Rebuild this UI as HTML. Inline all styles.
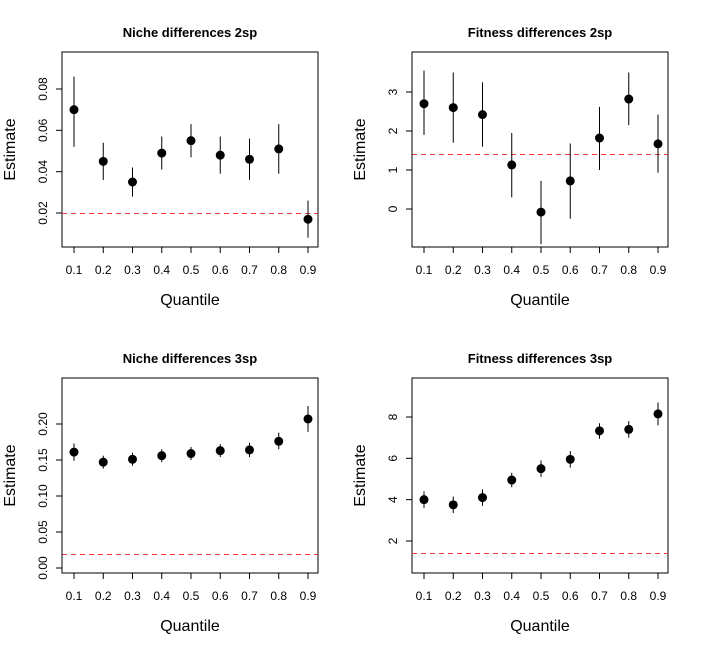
<!DOCTYPE html>
<html><head><meta charset="utf-8"><style>
body{margin:0;background:#fff}
svg text{font-family:"Liberation Sans",Arial,sans-serif;fill:#000}
</style></head><body>
<svg id="c" width="702" height="655" xmlns="http://www.w3.org/2000/svg"></svg>
<script>
const quantiles=[0.1,0.2,0.3,0.4,0.5,0.6,0.7,0.8,0.9];
const niche2Est=[0.070,0.045,0.035,0.049,0.055,0.048,0.046,0.051,0.017];
const niche2Lo=[0.052,0.036,0.028,0.041,0.047,0.039,0.036,0.039,0.008];
const niche2Hi=[0.086,0.054,0.042,0.057,0.063,0.057,0.056,0.063,0.026];
const fit2Est=[2.70,2.60,2.42,1.13,-0.08,0.72,1.82,2.82,1.67];
const fit2Lo=[1.90,1.70,1.60,0.30,-0.90,-0.25,1.00,2.15,0.93];
const fit2Hi=[3.55,3.50,3.25,1.95,0.72,1.68,2.62,3.50,2.42];
const niche3Est=[0.161,0.147,0.151,0.156,0.159,0.163,0.164,0.176,0.207];
const niche3Lo=[0.149,0.138,0.142,0.147,0.150,0.154,0.154,0.165,0.189];
const niche3Hi=[0.173,0.156,0.160,0.165,0.168,0.172,0.174,0.188,0.225];
const fit3Est=[4.00,3.75,4.10,4.95,5.50,5.95,7.33,7.40,8.15];
const fit3Lo=[3.60,3.35,3.70,4.60,5.10,5.55,6.95,7.00,7.60];
const fit3Hi=[4.40,4.15,4.50,5.30,5.90,6.35,7.70,7.80,8.70];
const xTickLabels=["0.1","0.2","0.3","0.4","0.5","0.6","0.7","0.8","0.9"];
const niche2Ticks=[0.02,0.04,0.06,0.08], niche2TickLabels=["0.02","0.04","0.06","0.08"];
const fit2Ticks=[0,1,2,3], fit2TickLabels=["0","1","2","3"];
const niche3Ticks=[0,0.05,0.10,0.15,0.20], niche3TickLabels=["0.00","0.05","0.10","0.15","0.20"];
const fit3Ticks=[2,4,6,8], fit3TickLabels=["2","4","6","8"];
const refNiche=0.02, refFit=1.4;

const svg=document.getElementById('c');const NS="http://www.w3.org/2000/svg";
function el(t,a,p){const e=document.createElementNS(NS,t);for(const k in a)e.setAttribute(k,a[k]);(p||svg).appendChild(e);return e;}
function panel(o){
  const g=el('g',{});
  
  
  const L=o.x0,R=o.x0+256,T=o.y0,B=o.y0+195;
  const xs=v=>o.x0+12+(v-0.1)/0.8*234;
  const ys=v=>o.ya+(v-o.va)*(o.yb-o.ya)/(o.vb-o.va);
  const t=el('text',{x:(L+R)/2,y:T-15,'text-anchor':'middle','font-size':13,'font-weight':'bold'},g);t.textContent=o.title;
  
  const box=el('rect',{x:L,y:T,width:R-L,height:B-T,fill:'none',stroke:'#000','stroke-width':1},g);
  
  const ry=Math.round(ys(o.ref))+0.5;
  const rl=el('line',{x1:L,x2:R,y1:ry,y2:ry,stroke:'#f03c3c','stroke-dasharray':'5,4','stroke-width':1},g);
  
  const xa=el('g',{},g);
  el('line',{x1:xs(quantiles[0]),x2:xs(quantiles[8]),y1:B,y2:B,stroke:'#000'},xa);
  quantiles.forEach((q,i)=>{el('line',{x1:xs(q),x2:xs(q),y1:B,y2:B+6,stroke:'#000'},xa);
    const tx=el('text',{x:xs(q),y:B+27,'text-anchor':'middle','font-size':12},xa);tx.textContent=xTickLabels[i];});
  const xl=el('text',{x:(L+R)/2,y:B+58,'text-anchor':'middle','font-size':16},g);xl.textContent='Quantile';
  
  const ya=el('g',{},g);
  el('line',{x1:L,x2:L,y1:ys(o.ticks[0]),y2:ys(o.ticks[o.ticks.length-1]),stroke:'#000'},ya);
  o.ticks.forEach((v,i)=>{const y=ys(v);el('line',{x1:L-6,x2:L,y1:y,y2:y,stroke:'#000'},ya);
    const tx=el('text',{x:L-15,y:y,'text-anchor':'middle','font-size':12,transform:`rotate(-90 ${L-15} ${y})`},ya);tx.textContent=o.tl[i];});
  const yl=el('text',{x:L-47,y:(T+B)/2,'text-anchor':'middle','font-size':16,transform:`rotate(-90 ${L-47} ${(T+B)/2})`},g);yl.textContent='Estimate';
  
  quantiles.forEach((q,i)=>{
    const e=el('line',{x1:xs(q),x2:xs(q),y1:ys(o.lo[i]),y2:ys(o.hi[i]),stroke:'#000','stroke-width':1},g);
    
    const c=el('circle',{cx:xs(q),cy:ys(o.est[i]),r:4.5,fill:'#000'},g);
    
  });
}
panel({name:'niche-2sp-panel',title:'Niche differences 2sp',x0:62,y0:52,va:0.02,ya:213,vb:0.08,yb:89,ticks:niche2Ticks,tl:niche2TickLabels,est:niche2Est,lo:niche2Lo,hi:niche2Hi,ref:refNiche});
panel({name:'fitness-2sp-panel',title:'Fitness differences 2sp',x0:412,y0:52,va:0,ya:209,vb:3,yb:92,ticks:fit2Ticks,tl:fit2TickLabels,est:fit2Est,lo:fit2Lo,hi:fit2Hi,ref:refFit});
panel({name:'niche-3sp-panel',title:'Niche differences 3sp',x0:62,y0:378,va:0,ya:568,vb:0.2,yb:424,ticks:niche3Ticks,tl:niche3TickLabels,est:niche3Est,lo:niche3Lo,hi:niche3Hi,ref:refNiche});
panel({name:'fitness-3sp-panel',title:'Fitness differences 3sp',x0:412,y0:378,va:2,ya:541,vb:8,yb:417,ticks:fit3Ticks,tl:fit3TickLabels,est:fit3Est,lo:fit3Lo,hi:fit3Hi,ref:refFit});
</script>
</body></html>
